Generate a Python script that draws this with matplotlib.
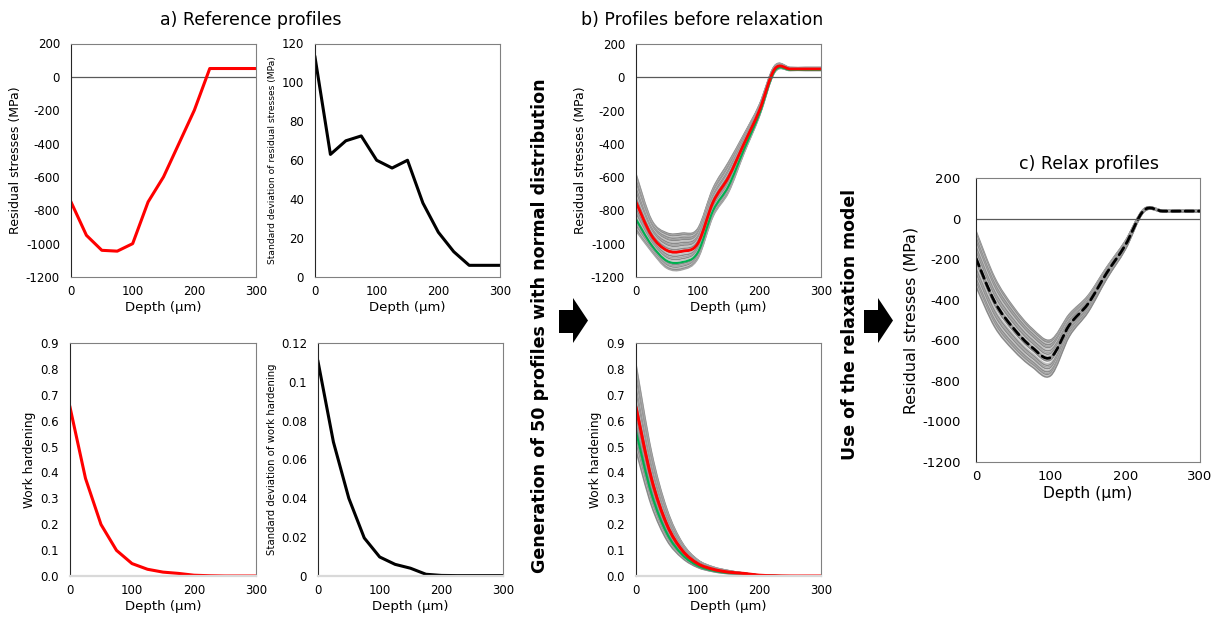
import numpy as np
import matplotlib
matplotlib.use("Agg")
import matplotlib.pyplot as plt
from matplotlib.path import Path
from matplotlib.patches import PathPatch, Polygon

plt.rcParams['font.family'] = ['DejaVu Sans']
plt.rcParams['axes.unicode_minus'] = False

# depth points (µm)
depth = [0, 25, 50, 75, 100, 125, 150, 175, 200, 225, 250, 275, 300]

# a) reference profiles
rs_mean = [-750, -950, -1040, -1045, -1000, -750, -600, -400, -200, 50, 50, 50, 50]
rs_std = [113, 63, 70, 72.5, 60, 56, 60, 38, 23, 13, 6, 6, 6]
wh_mean = [0.652, 0.377, 0.199, 0.099, 0.048, 0.026, 0.015, 0.010, 0.003, 0.001, 0.0, 0.0, 0.0]
wh_std = [0.1105, 0.069, 0.040, 0.0196, 0.0098, 0.006, 0.004, 0.0009, 0.0003, 0.0002, 0.0002, 0.0002, 0.0002]

# b) normal deviates of the generated profiles (read from band spread)
rs_k = [1.5, 1.42, 1.34, 1.25, 1.15, 1.05, 0.95, 0.85, 0.72, 0.6, 0.48, 0.36,
        0.22, 0.08, -0.06, -0.2, -0.34, -0.48, -0.62, -0.74, -1.02, -1.14,
        -1.26, -1.36, -1.45, -1.53]
wh_k = [1.5, 1.41, 1.32, 1.22, 1.12, 1.02, 0.9, 0.78, 0.66, 0.54, 0.42, 0.3,
        0.16, 0.03, -0.1, -0.24, -0.38, -0.52, -0.66, -0.98, -1.1, -1.22,
        -1.32, -1.42, -1.52]
green_k_rs = -0.9
green_k_wh = -0.85

# c) relaxed profiles
rel_mean = [-195, -410, -540, -635, -685, -525, -420, -268, -130, 42, 38, 38, 38]
rel_std = [90, 80, 70, 62, 58, 36, 27, 19, 14, 5, 3, 3, 3]
rel_k = [1.5, 1.41, 1.32, 1.22, 1.12, 1.0, 0.88, 0.76, 0.62, 0.48, 0.34, 0.2,
         0.06, -0.08, -0.22, -0.44, -0.58, -0.72, -0.86, -1.0, -1.12, -1.24,
         -1.35, -1.45, -1.55]

W, H = 1220, 623
fig = plt.figure(figsize=(W / 100, H / 100), dpi=100)
greys = ['#8a8a8a', '#a6a6a6', '#8a8a8a', '#c4c4c4']


def px_axes(l, t, r, b):
    return fig.add_axes([l / W, 1 - b / H, (r - l) / W, (b - t) / H])


def smooth(ax, x, y, **kw):
    # Excel-like smoothed line (bezier through the points)
    pts = np.column_stack([x, y]).astype(float)
    n = len(pts)
    verts = [pts[0]]
    codes = [Path.MOVETO]
    for i in range(n - 1):
        p0 = pts[max(i - 1, 0)]
        p1 = pts[i]
        p2 = pts[i + 1]
        p3 = pts[min(i + 2, n - 1)]
        verts += [p1 + (p2 - p0) / 6, p2 - (p3 - p1) / 6, p2]
        codes += [Path.CURVE4] * 3
    ax.add_patch(PathPatch(Path(verts, codes), fill=False, capstyle='round',
                           joinstyle='round', **kw))


def style(ax, ylim, yticks, ylab, ylab_size, fmt, tick_size=8.5, xlab_size=9.5,
          ypad=8, bottom_light=False):
    ax.set_xlim(0, 300)
    ax.set_ylim(*ylim)
    ax.set_xticks([0, 100, 200, 300])
    ax.set_yticks(yticks)
    ax.set_yticklabels([fmt(v) for v in yticks])
    ax.tick_params(length=0, labelsize=tick_size)
    ax.tick_params(axis='y', pad=ypad)
    ax.tick_params(axis='x', pad=6)
    ax.set_xlabel("Depth (µm)", fontsize=xlab_size, labelpad=2)
    ax.set_ylabel(ylab, fontsize=ylab_size, labelpad=3)
    for s in ['top', 'right']:
        ax.spines[s].set_color('#808080')
        ax.spines[s].set_linewidth(0.8)
    ax.spines['left'].set_color('#262626')
    ax.spines['left'].set_linewidth(0.8)
    if bottom_light:
        ax.spines['bottom'].set_color('#d9d9d9')
        ax.spines['bottom'].set_linewidth(1.6)
    else:
        ax.spines['bottom'].set_color('#808080')
        ax.spines['bottom'].set_linewidth(0.8)


def fmt_int(v):
    return "%d" % v


def fmt_1(v):
    return "%.1f" % v


def fmt_g(v):
    return "0" if v == 0 else ("%.2f" % v).rstrip('0')


def bundle(ax, mean, std, ks):
    for i, k in enumerate(ks):
        smooth(ax, depth, np.array(mean) + k * np.array(std),
               ec=greys[i % len(greys)], lw=1.1)


rs_ticks = list(range(-1200, 201, 200))
wh_ticks = [round(0.1 * i, 1) for i in range(10)]

# a1
ax = px_axes(71, 43.5, 256, 277)
ax.axhline(0, color='#595959', lw=0.9)
ax.plot(depth, rs_mean, color='#ff0000', lw=2.2)
style(ax, (-1200, 200), rs_ticks, "Residual stresses (MPa)", 9, fmt_int)

# a2
ax = px_axes(315, 43.5, 500, 277)
ax.plot(depth, rs_std, color='black', lw=2.2)
style(ax, (0, 120), list(range(0, 121, 20)),
      "Standard deviation of residual stresses (MPa)", 6.6, fmt_int)

# a3
ax = px_axes(70, 343, 256, 576)
ax.plot(depth, wh_mean, color='#ff0000', lw=2.2)
style(ax, (0, 0.9), wh_ticks, "Work hardening", 8.7, fmt_1, bottom_light=True)

# a4
ax = px_axes(318, 343, 503, 576)
ax.plot(depth, wh_std, color='black', lw=2.2)
style(ax, (0, 0.12), [0, 0.02, 0.04, 0.06, 0.08, 0.1, 0.12],
      "Standard deviation of work hardening", 7.3, fmt_g, bottom_light=True)

# b1
ax = px_axes(636, 44, 821, 277)
ax.axhline(0, color='#595959', lw=0.9)
bundle(ax, rs_mean, rs_std, rs_k)
smooth(ax, depth, np.array(rs_mean) + green_k_rs * np.array(rs_std), ec='#00b050', lw=1.5)
smooth(ax, depth, rs_mean, ec='#ff0000', lw=2.0)
style(ax, (-1200, 200), rs_ticks, "Residual stresses (MPa)", 9, fmt_int)

# b2
ax = px_axes(636, 343, 821, 576)
bundle(ax, wh_mean, wh_std, wh_k)
smooth(ax, depth, np.array(wh_mean) + green_k_wh * np.array(wh_std), ec='#00b050', lw=1.5)
smooth(ax, depth, wh_mean, ec='#ff0000', lw=2.2)
style(ax, (0, 0.9), wh_ticks, "Work hardening", 8.7, fmt_1, bottom_light=True)

# c
ax = px_axes(976, 178.3, 1200, 461.7)
ax.axhline(0, color='#595959', lw=0.9)
bundle(ax, rel_mean, rel_std, rel_k)
smooth(ax, depth, rel_mean, ec='black', lw=2.0, linestyle=(0, (3, 1.8)))
style(ax, (-1200, 200), rs_ticks, "Residual stresses (MPa)", 11.4, fmt_int,
      tick_size=9.5, xlab_size=11.2, ypad=11)

# titles
fig.text(251 / W, 1 - 20 / H, "a) Reference profiles", fontsize=12.5, ha='center', va='center')
fig.text(702 / W, 1 - 20 / H, "b) Profiles before relaxation", fontsize=12.5, ha='center', va='center')
fig.text(1089 / W, 1 - 164 / H, "c) Relax profiles", fontsize=12.5, ha='center', va='center')

# rotated step captions
fig.text(540 / W, 1 - 326 / H, "Generation of 50 profiles with normal distribution",
         fontsize=12.6, fontweight='bold', rotation=90, ha='center', va='center')
fig.text(850 / W, 1 - 324 / H, "Use of the relaxation model",
         fontsize=12.4, fontweight='bold', rotation=90, ha='center', va='center')


def arrow(x0):
    pts = [(x0, 310), (x0 + 14, 310), (x0 + 14, 298), (x0 + 29, 320.5),
           (x0 + 14, 343), (x0 + 14, 333), (x0, 333)]
    pts = [(x / W, 1 - y / H) for x, y in pts]
    fig.patches.append(Polygon(pts, closed=True, fc='black', ec='none',
                               transform=fig.transFigure, figure=fig))


arrow(559)
arrow(864)

fig.savefig("out.png", dpi=100)
